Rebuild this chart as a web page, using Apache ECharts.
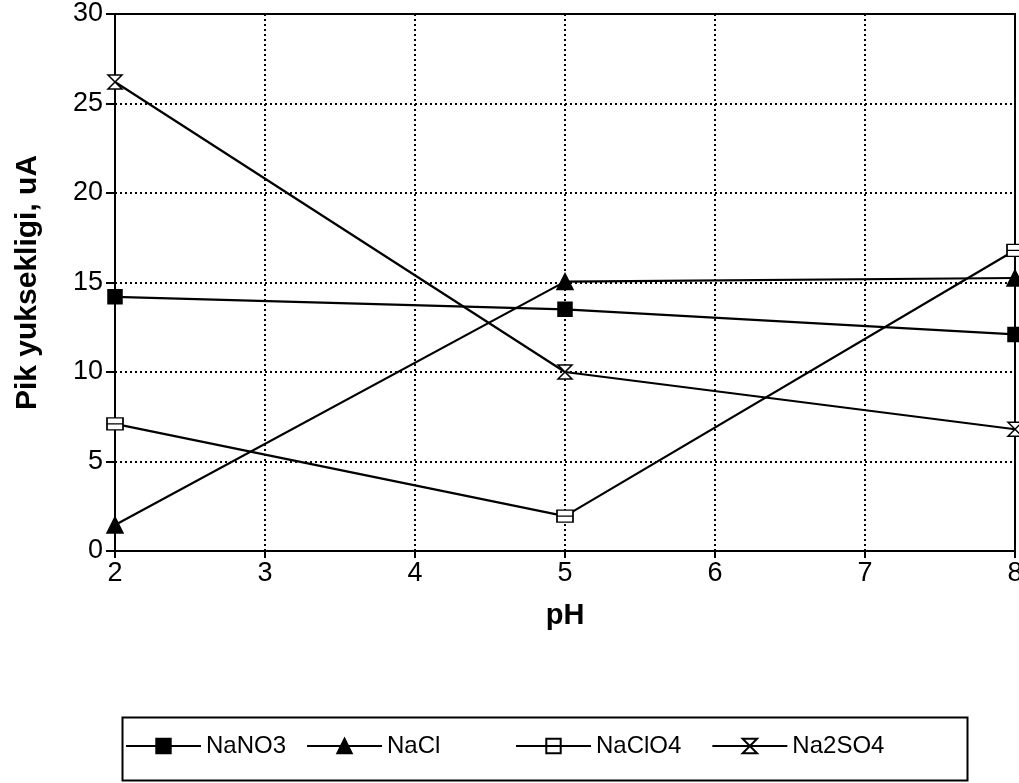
<!DOCTYPE html>
<html>
<head>
<meta charset="utf-8">
<script src="https://cdn.jsdelivr.net/npm/echarts@6/dist/echarts.min.js"></script>
<style>
html,body{margin:0;padding:0;background:#fff;}
#chart{width:1019px;height:783px;}
</style>
</head>
<body>
<div id="chart"></div>
<script>
const pH = [2, 5, 8];
const NaNO3 = [14.2, 13.5, 12.1];
const NaCl = [1.45, 15.05, 15.25];
const NaClO4 = [7.1, 1.95, 16.8];
const Na2SO4 = [26.2, 10.0, 6.8];
const seriesNames = ['NaNO3', 'NaCl', 'NaClO4', 'Na2SO4'];
const yTicks = [0, 5, 10, 15, 20, 25, 30];
const xTicks = [2, 3, 4, 5, 6, 7, 8];

const font = 'Liberation Sans, Arial, sans-serif';
const symbols = [
  'rect',
  'triangle',
  'path://M0,0 H10 V8 H0 Z M0,4 H10',
  'path://M0,0 H10 L0,10 H10 Z'
];
const symbolSizes = [14, 16, [16, 12], [14, 14]];
const fills = ['#000', '#000', '#fff', '#fff'];
const dataSets = [NaNO3, NaCl, NaClO4, Na2SO4];

const legendCommon = {
  top: 734, padding: 0,
  itemWidth: 75, itemHeight: 18,
  textStyle: { fontSize: 24, color: '#000', fontFamily: font }
};

const chart = echarts.init(document.getElementById('chart'));
chart.setOption({
  animation: false,
  backgroundColor: '#fff',
  textStyle: { fontFamily: font, color: '#000' },
  grid: {
    left: 115, right: 4, top: 14, bottom: 232,
    outerBoundsMode: 'none', containLabel: false,
    show: true, borderColor: '#000', borderWidth: 2, backgroundColor: 'transparent'
  },
  xAxis: {
    type: 'value', min: xTicks[0], max: xTicks[xTicks.length - 1], interval: 1,
    name: 'pH', nameLocation: 'middle', nameGap: 50,
    nameTextStyle: { fontSize: 29, fontWeight: 'bold', color: '#000', fontFamily: font },
    axisLine: { show: true, lineStyle: { color: '#000', width: 2 } },
    axisTick: { show: true, length: 7, lineStyle: { color: '#000', width: 2 } },
    axisLabel: { fontSize: 27, color: '#000', margin: 9, fontFamily: font },
    splitLine: { show: true, lineStyle: { color: '#000', type: [2, 3], width: 2 } }
  },
  yAxis: {
    type: 'value', min: yTicks[0], max: yTicks[yTicks.length - 1], interval: 5,
    name: 'Pik yuksekligi, uA', nameLocation: 'middle', nameGap: 72,
    nameTextStyle: { fontSize: 30, fontWeight: 'bold', color: '#000', fontFamily: font },
    axisLine: { show: true, lineStyle: { color: '#000', width: 2 } },
    axisTick: { show: true, length: 9, lineStyle: { color: '#000', width: 2 } },
    axisLabel: { fontSize: 27, color: '#000', margin: 12, fontFamily: font },
    splitLine: { show: true, lineStyle: { color: '#000', type: [2, 3], width: 2 } }
  },
  legend: [
    Object.assign({}, legendCommon, { left: 125, itemGap: 20, data: seriesNames.slice(0, 2) }),
    Object.assign({}, legendCommon, { left: 515, itemGap: 30, data: seriesNames.slice(2) })
  ],
  graphic: [{
    type: 'rect', left: 120, top: 715,
    shape: { width: 845, height: 63 },
    style: { fill: 'none', stroke: '#000', lineWidth: 2 },
    silent: true
  }],
  series: seriesNames.map((n, i) => ({
    name: n,
    type: 'line',
    data: pH.map((x, j) => [x, dataSets[i][j]]),
    symbol: symbols[i],
    symbolSize: symbolSizes[i],
    showAllSymbol: true,
    clip: false,
    lineStyle: { color: '#000', width: 2.2 },
    itemStyle: { color: fills[i], borderColor: '#000', borderWidth: 1.5 },
    emphasis: { disabled: true }
  }))
});
</script>
</body>
</html>
